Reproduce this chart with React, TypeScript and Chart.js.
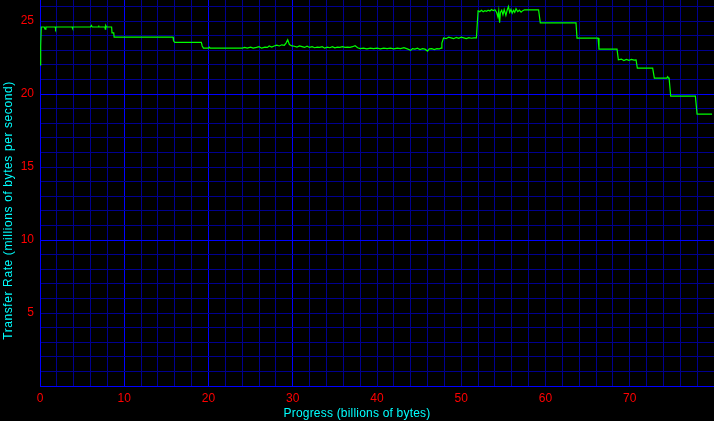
import React, { useEffect, useRef } from "react";
import { Chart, registerables } from "chart.js";

Chart.register(...registerables);

const xTitle = "Progress (billions of bytes)";
const yTitle = "Transfer Rate (millions of bytes per second)";

const progress = [
  0, 0.08, 0.15, 0.5, 0.6, 0.7, 1.8, 1.85, 1.9, 3.8, 3.85, 3.9, 6.0, 6.1, 6.2, 6.9, 6.95, 7.0, 7.7, 7.75, 7.8, 7.9,
  8.5, 8.55, 8.75, 8.8, 15.8, 15.85, 16.0, 19.15, 19.25, 19.4, 20.0, 20.1, 20.2,
  24.0, 24.3, 24.6, 25.0, 25.3, 25.7, 26.0, 26.3, 26.7, 27.0, 27.2, 27.5, 27.8, 28.1, 28.4, 28.7, 29.0, 29.2, 29.4,
  29.6, 29.9, 30.2, 30.5, 30.8, 31.1, 31.4, 31.7, 32.0, 32.3, 32.6, 32.9, 33.2, 33.5, 33.8, 34.1, 34.4, 34.7, 35.0,
  35.3, 35.6, 35.9, 36.2, 36.5, 36.8, 37.1, 37.4, 37.7, 38.0, 38.4, 38.8, 39.2, 39.6, 40.0, 40.4, 40.8, 41.2, 41.6,
  42.0, 42.4, 42.8, 43.2, 43.6, 44.0, 44.2, 44.5, 44.8, 45.1, 45.4, 45.7, 46.0, 46.2, 46.5, 46.8, 47.1, 47.4, 47.6,
  47.7, 47.9,
  48.2, 48.5, 48.8, 49.1, 49.4, 49.7, 50.0, 50.3, 50.6, 50.9, 51.2, 51.5, 51.8, 51.9, 52.0,
  52.2, 52.4, 52.6, 52.8, 53.0, 53.2, 53.4, 53.6, 53.8, 54.0, 54.2, 54.35, 54.45, 54.55, 54.65, 54.8, 54.95, 55.1,
  55.3, 55.45, 55.6, 55.75, 55.9, 56.05, 56.2, 56.35, 56.5, 56.7, 56.9, 57.1, 57.3, 57.5, 57.9, 59.18, 59.38,
  63.62, 63.74, 66.24, 66.35, 68.49, 68.65, 69.0, 69.3, 69.6, 69.9, 70.2, 70.5, 70.75, 70.9, 72.72, 72.92, 74.4,
  74.5, 74.6, 74.67, 74.86, 77.79, 77.99, 79.77,
];

const rate = [
  22.0, 23.3, 24.6, 24.6, 24.45, 24.6, 24.6, 24.5, 24.6, 24.6, 24.5, 24.6, 24.6, 24.7, 24.6, 24.6, 24.7, 24.6, 24.6, 24.45, 24.7, 24.6,
  24.6, 24.2, 24.2, 23.9, 23.9, 23.65, 23.55, 23.55, 23.3, 23.15, 23.15, 23.22, 23.15,
  23.15, 23.2, 23.15, 23.22, 23.15, 23.2, 23.25, 23.15, 23.22, 23.2, 23.3, 23.22, 23.3, 23.35, 23.3, 23.38, 23.35, 23.5, 23.72,
  23.4, 23.3, 23.28, 23.22, 23.3, 23.25, 23.2, 23.28, 23.2, 23.25, 23.18, 23.22, 23.2, 23.25, 23.15, 23.22, 23.18, 23.25, 23.17,
  23.22, 23.2, 23.25, 23.2, 23.22, 23.2, 23.25, 23.32, 23.18, 23.12, 23.15, 23.1, 23.15, 23.12, 23.15, 23.1, 23.15, 23.12, 23.15,
  23.1, 23.15, 23.12, 23.18, 23.1, 23.0, 23.12, 23.08, 23.15, 23.05, 23.12, 23.08, 22.95, 23.1, 23.12, 23.05, 23.12, 23.1, 23.15,
  23.5, 23.85,
  23.8, 23.9, 23.85, 23.8, 23.88, 23.82, 23.9, 23.85, 23.8, 23.87, 23.83, 23.86, 23.85, 24.8, 25.7,
  25.65, 25.75, 25.65, 25.72, 25.68, 25.75, 25.7, 25.8, 25.72, 25.78, 25.6, 25.3, 25.7, 24.9, 25.6, 25.75, 25.45, 25.8,
  25.4, 25.75, 26.0, 25.6, 25.8, 25.55, 25.75, 25.6, 25.85, 25.65, 25.75, 25.62, 25.72, 25.78, 25.77, 25.77, 24.88,
  24.88, 23.84, 23.84, 23.08, 23.08, 22.35, 22.4, 22.3, 22.38, 22.32, 22.38, 22.33, 22.35, 21.78, 21.78, 21.1, 21.1,
  21.2, 21.1, 21.1, 19.86, 19.86, 18.63, 18.63,
];

const xTickLabels = [0, 10, 20, 30, 40, 50, 60, 70];
const yTickLabels = [5, 10, 15, 20, 25];
const xBright = [10, 20, 30];
const yBright = [10, 20];

export default function App() {
  const ref = useRef<HTMLCanvasElement>(null);

  useEffect(() => {
    const canvas = ref.current;
    if (!canvas) return;

    const titlePlugin = {
      id: "titles",
      afterDraw(chart: any) {
        const ctx = chart.ctx;
        ctx.save();
        ctx.fillStyle = "#00ffff";
        ctx.font = '12px "Liberation Sans", Arial, sans-serif';
        ctx.textAlign = "center";
        ctx.textBaseline = "middle";
        (ctx as any).letterSpacing = "0.2px";
        ctx.fillText(xTitle, chart.width / 2, 413.5);
        (ctx as any).letterSpacing = "0.6px";
        ctx.translate(9, chart.height / 2);
        ctx.rotate(-Math.PI / 2);
        ctx.fillText(yTitle, 0, 0);
        ctx.restore();
      },
    };

    const chart = new Chart(canvas, {
      type: "line",
      data: {
        datasets: [
          {
            data: progress.map((x, i) => ({ x, y: rate[i] })),
            borderColor: "#00ff00",
            borderWidth: 1.2,
            pointRadius: 0,
            tension: 0,
            fill: false,
          },
        ],
      },
      options: {
        responsive: false,
        animation: false,
        devicePixelRatio: 1,
        layout: { padding: 0 },
        plugins: { legend: { display: false }, tooltip: { enabled: false } },
        scales: {
          x: {
            type: "linear",
            min: 0,
            max: 80,
            afterBuildTicks: (scale: any) => {
              const t = [];
              for (let v = 0; v < 80; v += 2) t.push({ value: v });
              scale.ticks = t;
            },
            afterFit: (scale: any) => {
              scale.height = 35;
              scale.paddingLeft = 0;
              scale.paddingRight = 0;
            },
            ticks: {
              color: "#ff0000",
              font: { family: '"Liberation Sans", Arial, sans-serif', size: 12 },
              padding: 5,
              maxRotation: 0,
              autoSkip: false,
              callback: (v: any) => (xTickLabels.includes(Number(v)) ? String(v) : ""),
            },
            grid: {
              color: (c: any) => (xBright.includes(c.tick?.value) ? "#0000ff" : "#000090"),
              lineWidth: 1,
              drawTicks: false,
            },
            border: { color: "#0000ff", width: 1 },
          },
          y: {
            type: "linear",
            min: 0,
            max: 26.45,
            afterBuildTicks: (scale: any) => {
              const t = [];
              for (let v = 0; v <= 26; v += 1) t.push({ value: v });
              scale.ticks = t;
            },
            afterFit: (scale: any) => {
              scale.width = 40;
              scale.paddingTop = 0;
              scale.paddingBottom = 0;
            },
            ticks: {
              color: "#ff0000",
              font: { family: '"Liberation Sans", Arial, sans-serif', size: 12 },
              padding: 6,
              autoSkip: false,
              callback: (v: any) => (yTickLabels.includes(Number(v)) ? String(v) : ""),
            },
            grid: {
              color: (c: any) => (yBright.includes(c.tick?.value) ? "#0000ff" : "#000090"),
              lineWidth: 1,
              drawTicks: false,
            },
            border: { color: "#0000ff", width: 1 },
          },
        },
      },
      plugins: [titlePlugin],
    });

    return () => chart.destroy();
  }, []);

  return (
    <div style={{ position: "fixed", left: 0, top: 0, width: 714, height: 421, background: "#000" }}>
      <canvas ref={ref} width={714} height={421} style={{ display: "block" }} />
    </div>
  );
}
